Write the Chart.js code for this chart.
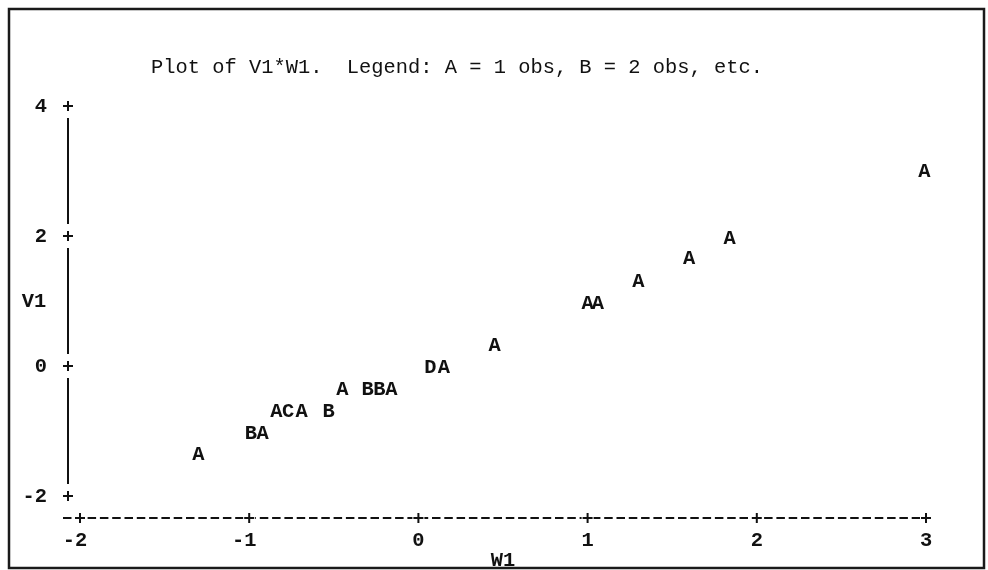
<!DOCTYPE html>
<html>
<head>
<meta charset="utf-8">
<script src="https://cdn.jsdelivr.net/npm/chart.js@4/dist/chart.umd.min.js"></script>
<style>
  html, body { margin: 0; padding: 0; background: #fff; overflow: hidden; }
  #wrap { width: 988px; height: 570px; position: relative; }
</style>
</head>
<body>
<div id="wrap"><canvas id="plot"></canvas></div>
<script>
// values
const w1 = [-1.30, -0.99, -0.92, -0.84, -0.77, -0.69, -0.53, -0.45, -0.30, -0.23, -0.16,
            0.07, 0.15, 0.45, 1.00, 1.06, 1.30, 1.60, 1.84, 2.99];
const v1 = [-1.34, -1.02, -1.02, -0.68, -0.68, -0.68, -0.68, -0.34, -0.34, -0.34, -0.34,
            0.00, 0.00, 0.34, 0.98, 0.98, 1.32, 1.68, 1.98, 3.02];
const symbols = ['A', 'B', 'A', 'A', 'C', 'A', 'B', 'A', 'B', 'B', 'A',
                 'D', 'A', 'A', 'A', 'A', 'A', 'A', 'A', 'A'];

const xTicks = [-2, -1, 0, 1, 2, 3];
const yTicks = [4, 2, 0, -2];
const titleText = 'Plot of V1*W1.  Legend: A = 1 obs, B = 2 obs, etc.';
const xName = 'W1';
const yName = 'V1';

const MONO = '"Liberation Mono", "Courier New", "DejaVu Sans Mono", monospace';
const INK = '#111';

// small printer "+" mark
function plus(c, x, y) {
  c.beginPath();
  c.moveTo(x - 5, y);
  c.lineTo(x + 5, y);
  c.moveTo(x, y - 5);
  c.lineTo(x, y + 5);
  c.stroke();
}

// draws the line-printer style frame, axes and letter symbols
const printerPlot = {
  id: 'printerPlot',
  beforeDraw(chart) {
    const c = chart.ctx;
    c.save();
    c.fillStyle = '#fff';
    c.fillRect(0, 0, chart.width, chart.height);
    c.strokeStyle = '#1a1a1a';
    c.lineWidth = 2.5;
    c.strokeRect(9, 9, 975, 559);
    c.restore();
  },
  afterDatasetsDraw(chart) {
    const c = chart.ctx;
    const xs = chart.scales.x, ys = chart.scales.y;
    const area = chart.chartArea;
    c.save();
    c.fillStyle = INK;
    c.strokeStyle = INK;

    // title
    c.font = '20.4px ' + MONO;
    c.textAlign = 'center';
    c.textBaseline = 'alphabetic';
    c.fillText(titleText, 457, 73);

    c.font = 'bold 20.4px ' + MONO;

    // vertical axis
    const axX = area.left - 12;
    c.lineWidth = 2;
    for (let i = 0; i < yTicks.length - 1; i++) {
      const y0 = ys.getPixelForValue(yTicks[i]);
      const y1 = ys.getPixelForValue(yTicks[i + 1]);
      c.beginPath();
      c.moveTo(axX, y0 + 12);
      c.lineTo(axX, y1 - 12);
      c.stroke();
    }
    yTicks.forEach(t => {
      const py = ys.getPixelForValue(t);
      plus(c, axX, py);
      c.textAlign = 'right';
      c.fillText(String(t), 47, py + 6);
    });
    c.textAlign = 'center';
    c.fillText(yName, 34, 307);

    // horizontal axis: dashes with + at each tick
    const axY = area.bottom + 22;
    c.lineWidth = 2;
    c.setLineDash([8.5, 3.8]);
    c.beginPath();
    c.moveTo(63, axY);
    c.lineTo(xs.getPixelForValue(xTicks[xTicks.length - 1]) + 4, axY);
    c.stroke();
    c.setLineDash([]);
    xTicks.forEach(t => {
      const px = xs.getPixelForValue(t);
      c.fillStyle = '#fff';
      c.fillRect(px - 6, axY - 6, 12, 12);
      c.fillStyle = INK;
      plus(c, px, axY);
      c.textAlign = 'center';
      c.fillText(String(t), px - (t < 0 ? 5 : 0), axY + 28);
    });
    c.fillText(xName, 503, 566);

    // plotted symbols at the scatter positions
    const meta = chart.getDatasetMeta(0);
    c.textAlign = 'center';
    meta.data.forEach((pt, i) => {
      c.fillText(symbols[i], pt.x, pt.y + 7);
    });
    c.restore();
  }
};

new Chart(document.getElementById('plot'), {
  type: 'scatter',
  data: {
    datasets: [{
      label: 'V1*W1',
      data: w1.map((x, i) => ({ x: x, y: v1[i] })),
      pointRadius: 0,
      pointHoverRadius: 0,
      showLine: false
    }]
  },
  options: {
    responsive: true,
    maintainAspectRatio: false,
    animation: false,
    events: [],
    layout: { padding: { left: 80, right: 62, top: 106, bottom: 74 } },
    plugins: { legend: { display: false }, title: { display: false }, tooltip: { enabled: false } },
    scales: {
      x: { type: 'linear', min: -2, max: 3, display: false },
      y: { type: 'linear', min: -2, max: 4, display: false }
    }
  },
  plugins: [printerPlot]
});
</script>
</body>
</html>
